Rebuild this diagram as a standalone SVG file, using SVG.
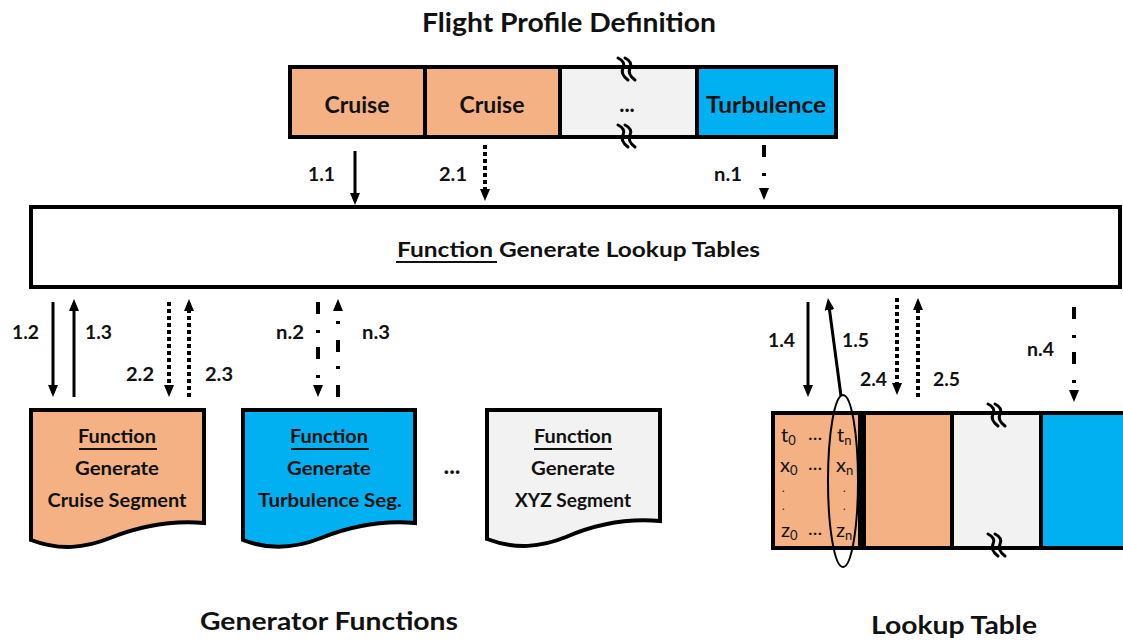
<svg xmlns="http://www.w3.org/2000/svg" width="1123" height="642" viewBox="0 0 1123 642">
  <defs>
    <style>
      text { font-family: Lato, "Open Sans", "Liberation Sans", sans-serif; fill: #111; }
      .b { font-weight: bold; }
      .lbl { font-weight: bold; font-size: 18px; }
      .cell { fill: #111; font-weight: normal; font-size: 20px; }
      .sub { font-size: 13px; }
      .dot { font-size: 11px; }
      .frame { fill: none; stroke: #000; stroke-width: 4; }
      .orange { fill: #F4B183; }
      .blue { fill: #00B0F0; }
      .grey { fill: #F2F2F2; }
      .div { stroke: #000; stroke-width: 4; }
      .ul { stroke: #111; stroke-width: 2; }
      .solid { stroke: #000; stroke-width: 3; fill: none; marker-end: url(#head); }
      .dotted { stroke: #000; stroke-width: 4; stroke-dasharray: 4 3; fill: none; marker-end: url(#head); }
      .dashdot { stroke: #000; stroke-width: 4; stroke-dasharray: 12 16 3 14; fill: none; marker-end: url(#head); }
      .brk { stroke: #000; stroke-width: 3; fill: none; stroke-linejoin: round; stroke-linecap: round; }
      .doc { stroke: #000; stroke-width: 4; stroke-linejoin: miter; }
    </style>
    <marker id="head" viewBox="0 0 12 10" refX="1" refY="5" markerWidth="12" markerHeight="10" markerUnits="userSpaceOnUse" orient="auto">
      <path d="M0,0 L12,5 L0,10 Z" fill="#000"/>
    </marker>
    <!-- break symbol: two parallel wavy strokes -->
    <g id="brk">
      <path class="brk" d="M-9,-12 Q-1,-8 -4,-2 Q-7,4 1,10"/>
      <path class="brk" d="M-2,-12 Q6,-8 3,-2 Q0,4 8,10"/>
    </g>
  </defs>

  <rect width="1123" height="642" fill="#fff"/>

  <!-- Section titles -->
  <text class="b" x="569" y="32" font-size="27" text-anchor="middle" textLength="294" lengthAdjust="spacingAndGlyphs">Flight Profile Definition</text>
  <text class="b" x="329" y="630" font-size="25" text-anchor="middle" textLength="258" lengthAdjust="spacingAndGlyphs">Generator Functions</text>
  <text class="b" x="954" y="634" font-size="25" text-anchor="middle" textLength="166" lengthAdjust="spacingAndGlyphs">Lookup Table</text>

  <!-- Flight profile bar -->
  <g id="profile">
    <rect class="orange" x="290" y="67" width="135" height="70"/>
    <rect class="orange" x="425" y="67" width="135" height="70"/>
    <rect class="grey" x="560" y="67" width="137" height="70"/>
    <rect class="blue" x="697" y="67" width="139" height="70"/>
    <rect class="frame" x="290" y="67" width="546" height="70"/>
    <line class="div" x1="425" y1="67" x2="425" y2="137"/>
    <line class="div" x1="560" y1="67" x2="560" y2="137"/>
    <line class="div" x1="697" y1="67" x2="697" y2="137"/>
    <text class="b" x="357" y="113" font-size="22" text-anchor="middle" textLength="65" lengthAdjust="spacingAndGlyphs">Cruise</text>
    <text class="b" x="492" y="113" font-size="22" text-anchor="middle" textLength="65" lengthAdjust="spacingAndGlyphs">Cruise</text>
    <text class="b" x="627" y="112" font-size="22" text-anchor="middle">...</text>
    <text class="b" x="766" y="113" font-size="22" text-anchor="middle" textLength="120" lengthAdjust="spacingAndGlyphs">Turbulence</text>
    <use href="#brk" x="627" y="70"/>
    <use href="#brk" x="627" y="137"/>
  </g>

  <!-- Central function -->
  <g id="generate-lookup">
    <rect x="31" y="207" width="1089" height="80" fill="#fff" stroke="#000" stroke-width="4"/>
    <text class="b" x="397" y="257" font-size="20" textLength="363" lengthAdjust="spacingAndGlyphs">Function Generate Lookup Tables</text>
    <line class="ul" x1="396" y1="262" x2="497" y2="262"/>
  </g>

  <!-- Generator function documents -->
  <g id="gen-cruise">
    <path class="doc orange" d="M31,410 H204 V523 C170,520 140,526 110,538 C85,548 60,551 31,540 Z"/>
    <text class="b" x="117" y="443" font-size="18" text-anchor="middle" textLength="78" lengthAdjust="spacingAndGlyphs">Function</text>
    <line class="ul" x1="79" y1="449" x2="157" y2="449"/>
    <text class="b" x="117" y="475" font-size="18" text-anchor="middle" textLength="84" lengthAdjust="spacingAndGlyphs">Generate</text>
    <text class="b" x="117" y="507" font-size="18" text-anchor="middle" textLength="139" lengthAdjust="spacingAndGlyphs">Cruise Segment</text>
  </g>
  <g id="gen-turbulence">
    <path class="doc blue" d="M243,410 H415 V523 C381,520 351,526 321,538 C296,548 271,551 243,540 Z"/>
    <text class="b" x="329" y="443" font-size="18" text-anchor="middle" textLength="78" lengthAdjust="spacingAndGlyphs">Function</text>
    <line class="ul" x1="291" y1="449" x2="369" y2="449"/>
    <text class="b" x="329" y="475" font-size="18" text-anchor="middle" textLength="84" lengthAdjust="spacingAndGlyphs">Generate</text>
    <text class="b" x="330" y="507" font-size="18" text-anchor="middle" textLength="144" lengthAdjust="spacingAndGlyphs">Turbulence Seg.</text>
  </g>
  <text class="b" x="452" y="474" font-size="24" text-anchor="middle">...</text>
  <g id="gen-xyz">
    <path class="doc grey" d="M487,410 H660 V521 C626,518 596,524 566,537 C541,547 516,550 487,539 Z"/>
    <text class="b" x="573" y="443" font-size="18" text-anchor="middle" textLength="78" lengthAdjust="spacingAndGlyphs">Function</text>
    <line class="ul" x1="534" y1="449" x2="612" y2="449"/>
    <text class="b" x="573" y="475" font-size="18" text-anchor="middle" textLength="84" lengthAdjust="spacingAndGlyphs">Generate</text>
    <text class="b" x="573" y="507" font-size="18" text-anchor="middle" textLength="116" lengthAdjust="spacingAndGlyphs">XYZ Segment</text>
  </g>

  <!-- Lookup table -->
  <g id="lookup-table">
    <rect class="orange" x="773" y="413" width="90" height="135"/>
    <rect class="orange" x="863" y="413" width="89" height="135"/>
    <rect class="grey" x="952" y="413" width="89" height="135"/>
    <rect class="blue" x="1041" y="413" width="90" height="135"/>
    <path d="M1130,413 H773 V548 H1130" fill="none" stroke="#000" stroke-width="4"/>
    <line x1="862" y1="413" x2="862" y2="548" stroke="#000" stroke-width="8"/>
    <line class="div" x1="952" y1="413" x2="952" y2="548"/>
    <line class="div" x1="1041" y1="413" x2="1041" y2="548"/>
    <!-- first column of values -->
    <text class="cell"><tspan x="781" y="442">t</tspan><tspan class="sub" dy="3">0</tspan><tspan x="780" y="472">x</tspan><tspan class="sub" dy="3">0</tspan><tspan class="dot" x="782" y="492">.</tspan><tspan class="dot" x="782" y="510">.</tspan><tspan x="781" y="537">z</tspan><tspan class="sub" dy="3">0</tspan></text>
    <!-- elided middle columns -->
    <text class="cell" font-size="14"><tspan x="808" y="440">...</tspan><tspan x="808" y="470">...</tspan><tspan x="808" y="535">...</tspan></text>
    <!-- last column of values -->
    <text class="cell"><tspan x="837" y="442">t</tspan><tspan class="sub" dy="3">n</tspan><tspan x="836" y="472">x</tspan><tspan class="sub" dy="3">n</tspan><tspan class="dot" x="843" y="492">.</tspan><tspan class="dot" x="843" y="510">.</tspan><tspan x="836" y="537">z</tspan><tspan class="sub" dy="3">n</tspan></text>
    <ellipse cx="843" cy="481" rx="15" ry="86" fill="none" stroke="#000" stroke-width="2"/>
    <use href="#brk" x="997" y="416"/>
    <use href="#brk" x="997" y="546"/>
  </g>

  <!-- Connectors -->
  <g id="connectors">
    <line class="solid" x1="355" y1="151" x2="355" y2="194"/>
    <line class="dotted" x1="485" y1="145" x2="485" y2="190"/>
    <line class="dashdot" x1="764" y1="145" x2="764" y2="189"/>
    <line class="solid" x1="53" y1="302" x2="53" y2="386"/>
    <line class="solid" x1="74" y1="397" x2="74" y2="310"/>
    <line class="dotted" x1="169" y1="302" x2="169" y2="386"/>
    <line class="dotted" x1="189" y1="397" x2="189" y2="310"/>
    <line class="dashdot" x1="318" y1="302" x2="318" y2="386"/>
    <line class="dashdot" x1="338" y1="397" x2="338" y2="310"/>
    <line class="solid" x1="808" y1="302" x2="808" y2="386"/>
    <line class="solid" x1="841" y1="396" x2="829.4" y2="309"/>
    <line class="dotted" x1="897" y1="298" x2="897" y2="384"/>
    <line class="dotted" x1="918" y1="397" x2="918" y2="309"/>
    <line class="dashdot" x1="1074" y1="307" x2="1074" y2="391"/>
  </g>

  <!-- Connector labels -->
  <g id="connector-labels">
    <text class="lbl" x="308" y="181" textLength="27" lengthAdjust="spacingAndGlyphs">1.1</text>
    <text class="lbl" x="439" y="181" textLength="28" lengthAdjust="spacingAndGlyphs">2.1</text>
    <text class="lbl" x="714" y="181" textLength="28" lengthAdjust="spacingAndGlyphs">n.1</text>
    <text class="lbl" x="12" y="339" textLength="27" lengthAdjust="spacingAndGlyphs">1.2</text>
    <text class="lbl" x="85" y="339" textLength="27" lengthAdjust="spacingAndGlyphs">1.3</text>
    <text class="lbl" x="126" y="381" textLength="28" lengthAdjust="spacingAndGlyphs">2.2</text>
    <text class="lbl" x="205" y="381" textLength="28" lengthAdjust="spacingAndGlyphs">2.3</text>
    <text class="lbl" x="276" y="339" textLength="28" lengthAdjust="spacingAndGlyphs">n.2</text>
    <text class="lbl" x="362" y="339" textLength="28" lengthAdjust="spacingAndGlyphs">n.3</text>
    <text class="lbl" x="768" y="347" textLength="27" lengthAdjust="spacingAndGlyphs">1.4</text>
    <text class="lbl" x="842" y="347" textLength="27" lengthAdjust="spacingAndGlyphs">1.5</text>
    <text class="lbl" x="860" y="386" textLength="27" lengthAdjust="spacingAndGlyphs">2.4</text>
    <text class="lbl" x="933" y="386" textLength="27" lengthAdjust="spacingAndGlyphs">2.5</text>
    <text class="lbl" x="1027" y="356" textLength="27" lengthAdjust="spacingAndGlyphs">n.4</text>
  </g>
</svg>
